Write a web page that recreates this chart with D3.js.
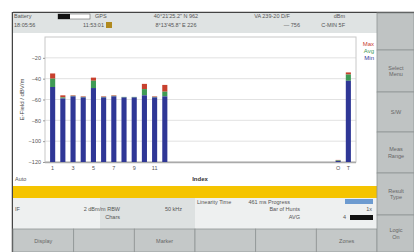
<!DOCTYPE html>
<html>
<head>
<meta charset="utf-8">
<script src="https://cdn.jsdelivr.net/npm/d3@7"></script>
<style>
  body { margin: 0; background: #fff; }
  text { font-family: "Liberation Sans", Arial, sans-serif; }
</style>
</head>
<body>
<div id="chart"></div>
<script>
// channel index -> min / avg / max field (dBV/m)
let indices = d3.range(1, 29).map(String).concat(["O", "T"]);
let minVals = [-48, -59, -57, -58, -49, -58, -57, -58, -58, -56, -58, -57];
let avgVals = [-40, -58, -56.5, -57.5, -42, -57.5, -56.5, -57.5, -57.5, -50, -57.5, -52.5];
let maxVals = [-35, -56, -56, -57, -39, -57, -56, -57.5, -57.5, -45, -57, -46];
let extraIdx = ["O", "T"];
let extraMin = [-119, -42];
let extraAvg = [-118.5, -36];
let extraMax = [-118, -34];
let tickLabels = ["1", "3", "5", "7", "9", "11", "O", "T"];
let yTicks = [-20, -40, -60, -80, -100, -120];
let legendNames = ["Max", "Avg", "Min"];
let softKeys = ["", "Select\nMenu", "S/W", "Meas\nRange", "Result\nType", "Logic\nOn"];
let bottomKeys = ["Display", "", "Marker", "", "", "Zones"];

let data = minVals.map((d, i) => ({ idx: String(i + 1), min: d, avg: avgVals[i], max: maxVals[i] }))
  .concat(extraIdx.map((d, i) => ({ idx: d, min: extraMin[i], avg: extraAvg[i], max: extraMax[i] })));

let svgWidth = 414, svgHeight = 252;
let svg = d3.select("#chart").append("svg")
  .attr("width", svgWidth).attr("height", svgHeight);

let colors = { Max: "#c8402e", Avg: "#3f9a55", Min: "#2f3796" };

// screen frame
svg.append("rect").attr("x", 13).attr("y", 12).attr("width", 401).attr("height", 240).attr("fill", "#f4f6f6");
svg.append("line").attr("x1", 13).attr("x2", 414).attr("y1", 12.5).attr("y2", 12.5).attr("stroke", "#444").attr("stroke-width", 1.5);
svg.append("line").attr("x1", 12.5).attr("x2", 12.5).attr("y1", 12).attr("y2", 252).attr("stroke", "#444").attr("stroke-width", 1.5);

// header
svg.append("rect").attr("x", 13).attr("y", 13).attr("width", 364).attr("height", 20).attr("fill", "#dfe3e3");
svg.append("rect").attr("x", 58).attr("y", 14).attr("width", 32).attr("height", 5).attr("fill", "#fff").attr("stroke", "#666").attr("stroke-width", 0.6);
svg.append("rect").attr("x", 58).attr("y", 14).attr("width", 12).attr("height", 5).attr("fill", "#111");
svg.append("rect").attr("x", 106).attr("y", 22).attr("width", 6).attr("height", 6).attr("fill", "#b08a20");
let hdr = [
  [14, 18, "Battery", "start"], [14, 27, "18:05:56", "start"],
  [95, 18, "GPS", "start"], [104, 27, "11:53:01", "end"],
  [176, 18, "40°21'25.2\" N 962", "middle"], [176, 27, "8°13'45.8\" E 226", "middle"],
  [272, 18, "VA 239-20 D/F", "middle"], [300, 27, "— 756", "end"],
  [345, 18, "dBm", "end"], [345, 27, "C-MIN 5F", "end"]
];
svg.selectAll(".hdr").data(hdr).enter().append("text")
  .attr("x", d => d[0]).attr("y", d => d[1]).attr("text-anchor", d => d[3])
  .style("font-size", "5.5px").attr("fill", "#555").text(d => d[2]);

// chart area
svg.append("rect").attr("x", 13).attr("y", 33).attr("width", 364).attr("height", 153).attr("fill", "#fff");

let plot = { left: 45, right: 356, top: 37, bottom: 162 };

let xScale = d3.scaleBand().domain(indices).range([plot.left, plot.right]).padding(0.5);
let yScale = d3.scaleLinear().domain([-120, 0]).range([plot.bottom, plot.top]);

let g = svg.append("g");

g.selectAll(".grid").data(yTicks).enter().append("line")
  .attr("x1", plot.left).attr("x2", plot.right)
  .attr("y1", d => yScale(d)).attr("y2", d => yScale(d))
  .attr("stroke", "#dadada").attr("stroke-width", 0.8);

g.append("rect").attr("x", plot.left).attr("y", plot.top)
  .attr("width", plot.right - plot.left).attr("height", plot.bottom - plot.top)
  .attr("fill", "none").attr("stroke", "#c8c8c8").attr("stroke-width", 1);
g.append("line").attr("x1", plot.left).attr("x2", plot.right)
  .attr("y1", plot.bottom + 0.5).attr("y2", plot.bottom + 0.5).attr("stroke", "#aaa").attr("stroke-width", 1.5);

let yAxis = d3.axisLeft(yScale).tickValues(yTicks).tickSize(2).tickPadding(2);
g.append("g").attr("transform", `translate(${plot.left},0)`).call(yAxis)
  .call(a => a.select(".domain").remove())
  .call(a => a.selectAll("line").attr("stroke", "#999"))
  .call(a => a.selectAll("text").style("font-size", "5.5px").attr("fill", "#555"));

let xAxis = d3.axisBottom(xScale).tickValues(tickLabels).tickSize(0).tickPadding(4);
g.append("g").attr("transform", `translate(0,${plot.bottom})`).call(xAxis)
  .call(a => a.select(".domain").remove())
  .call(a => a.selectAll("text").style("font-size", "5.5px").attr("fill", "#555"));

// stacked bars: min (blue) -> avg (green) -> max (red)
let bars = g.selectAll(".bar").data(data).enter().append("g");
bars.append("rect").attr("x", d => xScale(d.idx)).attr("width", xScale.bandwidth())
  .attr("y", d => yScale(d.max)).attr("height", d => yScale(d.avg) - yScale(d.max)).attr("fill", colors.Max);
bars.append("rect").attr("x", d => xScale(d.idx)).attr("width", xScale.bandwidth())
  .attr("y", d => yScale(d.avg)).attr("height", d => yScale(d.min) - yScale(d.avg)).attr("fill", colors.Avg);
bars.append("rect").attr("x", d => xScale(d.idx)).attr("width", xScale.bandwidth())
  .attr("y", d => yScale(d.min)).attr("height", d => yScale(-120) - yScale(d.min)).attr("fill", colors.Min);

// legend
svg.selectAll(".leg").data(legendNames).enter().append("text")
  .attr("x", 374).attr("y", (d, i) => 46 + i * 7).attr("text-anchor", "end")
  .style("font-size", "6px").attr("fill", d => colors[d]).text(d => d);

// axis titles
svg.append("text").attr("transform", `translate(24,${(plot.top + plot.bottom) / 2}) rotate(-90)`)
  .attr("text-anchor", "middle").style("font-size", "6px").attr("fill", "#444").text("E-Field / dBV/m");
svg.append("text").attr("x", 15).attr("y", 181).style("font-size", "5.5px").attr("fill", "#555").text("Auto");
svg.append("text").attr("x", 200).attr("y", 181).attr("text-anchor", "middle")
  .style("font-size", "6px").style("font-weight", "bold").attr("fill", "#333").text("Index");

// yellow status bar
svg.append("rect").attr("x", 13).attr("y", 186).attr("width", 364).attr("height", 12).attr("fill", "#f5c400");

// info panel
svg.append("rect").attr("x", 13).attr("y", 198).attr("width", 364).attr("height", 31).attr("fill", "#eef0f0");
svg.append("rect").attr("x", 100).attr("y", 198).attr("width", 95).attr("height", 31).attr("fill", "#dde1e1");
svg.append("rect").attr("x", 345).attr("y", 199).attr("width", 28).attr("height", 5).attr("fill", "#6d9bd0");
svg.append("rect").attr("x", 350).attr("y", 215).attr("width", 23).attr("height", 5).attr("fill", "#111");
let info = [
  [197, 204, "Linearity Time", "start"], [290, 204, "461 ms Progress", "end"],
  [15, 211, "IF", "start"], [120, 211, "2 dBm/m RBW", "end"], [182, 211, "50 kHz", "end"],
  [300, 211, "Bar of Hunts", "end"], [372, 211, "1x", "end"],
  [120, 219, "Chars", "end"], [300, 219, "AVG", "end"], [346, 219, "4", "end"]
];
svg.selectAll(".info").data(info).enter().append("text")
  .attr("x", d => d[0]).attr("y", d => d[1]).attr("text-anchor", d => d[3])
  .style("font-size", "5.5px").attr("fill", "#555").text(d => d[2]);

// bottom soft keys
let bx = d3.scaleBand().domain(d3.range(bottomKeys.length)).range([13, 377]);
let bk = svg.selectAll(".bk").data(bottomKeys).enter().append("g");
bk.append("rect").attr("x", (d, i) => bx(i)).attr("y", 229).attr("width", bx.bandwidth()).attr("height", 23)
  .attr("fill", "#c4c8c8").attr("stroke", "#8f9494").attr("stroke-width", 0.8);
bk.append("text").attr("x", (d, i) => bx(i) + bx.bandwidth() / 2).attr("y", 243).attr("text-anchor", "middle")
  .style("font-size", "5.5px").attr("fill", "#666").text(d => d);

// right soft keys
let ry = [13, 50, 92, 132, 173, 215, 252];
let rk = svg.selectAll(".rk").data(softKeys).enter().append("g");
rk.append("rect").attr("x", 377).attr("y", (d, i) => ry[i]).attr("width", 37).attr("height", (d, i) => ry[i + 1] - ry[i])
  .attr("fill", "#bfc3c3").attr("stroke", "#8f9494").attr("stroke-width", 0.8);
rk.each(function (d, i) {
  let lines = d.split("\n");
  let mid = (ry[i] + ry[i + 1]) / 2;
  d3.select(this).selectAll("text").data(lines).enter().append("text")
    .attr("x", 396).attr("y", (l, j) => mid + 2 + (j - (lines.length - 1) / 2) * 6.5)
    .attr("text-anchor", "middle").style("font-size", "5.5px").attr("fill", "#666").text(l => l);
});
</script>
</body>
</html>
